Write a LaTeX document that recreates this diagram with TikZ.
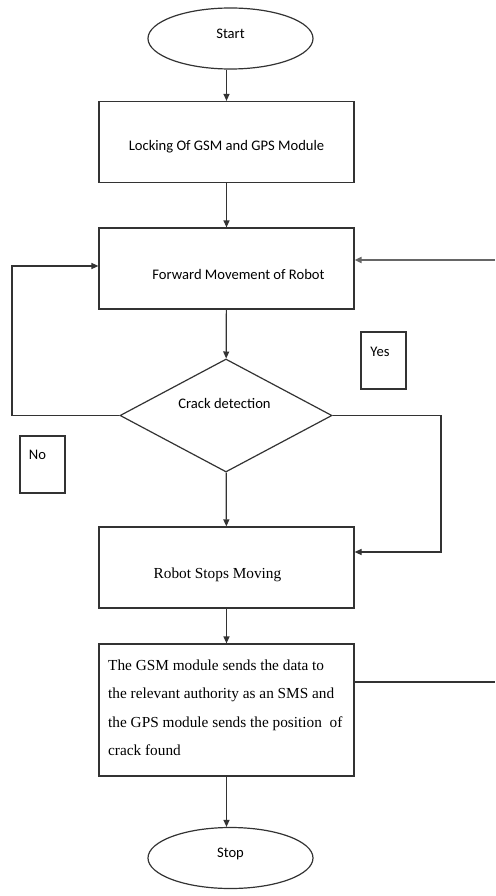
\documentclass[tikz,border=0pt]{standalone}
\usepackage{fontspec}
\setmainfont{Liberation Serif}
\newfontfamily\calibrifont{Carlito}
\usetikzlibrary{shapes.geometric,arrows.meta}
\begin{document}
\begin{tikzpicture}[x=1pt,y=-1pt,
  line/.style={draw=black!80,line width=1.2pt},
  arr/.style={line,-{Triangle[length=7pt,width=6pt]}},
  procbox/.style={draw=black!80,line width=1.2pt,minimum width=255pt,minimum height=81pt,inner sep=0pt},
  term/.style={ellipse,draw=black!80,line width=1.2pt,minimum width=165pt,minimum height=61pt,inner sep=0pt},
  decis/.style={diamond,draw=black!80,line width=1.2pt,minimum width=212pt,minimum height=113pt,inner sep=0pt},
  tagbox/.style={draw=black!80,line width=1.2pt,minimum width=45pt,minimum height=57pt,inner sep=0pt},
  calt/.style={font=\calibrifont\fontsize{14.6}{16}\selectfont,inner sep=0pt},
  sert/.style={font=\fontsize{15.3}{17}\selectfont,inner sep=0pt},
]
\useasboundingbox (0,0) rectangle (495,896);
\fill[white] (0,0) rectangle (495,896);

\node[term] (start) at (230.5,38.5) {};
\node[calt] (starttxt) at (230.5,34) {Start};

\node[procbox] (box1) at (226.5,142) {};
\node[calt] (box1txt) at (226.5,147) {Locking Of GSM and GPS Module};

\node[procbox] (box2) at (226.5,268.5) {};
\node[calt] (box2txt) at (238.5,274) {Forward Movement of Robot};

\node[decis] (dia) at (226,415.5) {};
\node[calt] (diatxt) at (224.5,403) {Crack detection};

\node[tagbox] (yesbox) at (383.5,360.5) {};
\node[calt] (yestxt) at (380,352) {Yes};
\node[tagbox] (nobox) at (42.5,464.5) {};
\node[calt] (notxt) at (37.5,455) {No};

\node[procbox] (box3) at (226.5,567.5) {};
\node[sert] (box3txt) at (217.5,575) {Robot Stops Moving};

\node[procbox,minimum height=132pt] (box4) at (226.5,710) {};
\node[sert,anchor=base west] (l1) at (108,670) {The GSM module sends the data to};
\node[sert,anchor=base west] (l2) at (108,698.6) {the relevant authority as an SMS and};
\node[sert,anchor=base west] (l3) at (108,727.2) {the GPS module sends the position\ \ of};
\node[sert,anchor=base west] (l4) at (108,755.8) {crack found};

\node[term] (stop) at (230.5,858) {};
\node[calt] (stoptxt) at (230.5,854) {Stop};

\draw[arr] (start.south -| 226.5,0) -- (box1.north -| 226.5,0);
\draw[arr] (box1) -- (box2);
\draw[arr] (box2) -- (dia);
\draw[arr] (dia) -- (box3);
\draw[arr] (box3) -- (box4);
\draw[arr] (box4.south -| 226.5,0) -- (stop.north -| 226.5,0);

\coordinate (lc) at (12,266);
\draw[arr] (dia.west) -| (lc) -- (lc -| box2.west);

\coordinate (rc) at (441,552);
\draw[arr] (dia.east) -| (rc) -- (rc -| box3.east);

\coordinate (rin) at (495,260);
\draw[arr,draw=black!60,line width=1.8pt] (rin) -- (rin -| box2.east);

\coordinate (rout) at (495,682);
\draw[line] (rout -| box4.east) -- (rout);
\end{tikzpicture}
\end{document}
